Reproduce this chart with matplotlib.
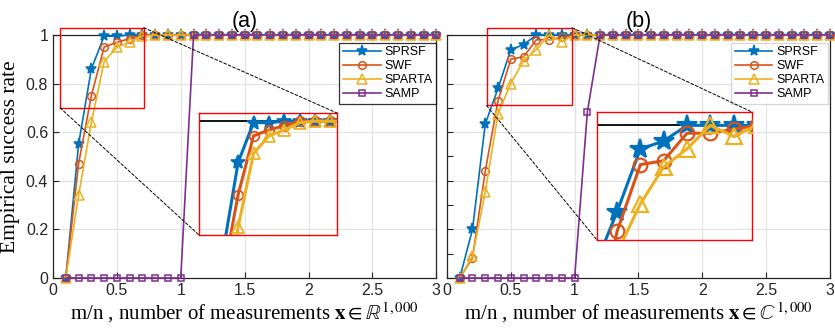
import numpy as np
import matplotlib.pyplot as plt
from matplotlib.patches import Rectangle, ConnectionPatch

plt.rcParams['font.family'] = ['Liberation Sans', 'DejaVu Sans']
plt.rcParams['mathtext.fontset'] = 'stix'

# m/n ratio, 0.1 .. 3.0
x = np.round(np.arange(1, 31) * 0.1, 1)

tail = [1.0] * 22
# panel (a): real signals
a_sprsf = [0, 0.55, 0.86, 0.995, 0.995, 1.0, 1.0, 1.0] + tail
a_swf = [0, 0.47, 0.75, 0.95, 0.97, 0.985, 1.0, 1.0] + tail
a_sparta = [0, 0.34, 0.64, 0.89, 0.95, 0.97, 0.995, 1.0] + tail
a_samp = [0] * 10 + [1.0] * 20

# panel (b): complex signals
b_sprsf = [0, 0.20, 0.634, 0.78, 0.94, 0.96, 1.0, 1.0] + tail
b_swf = [0, 0.083, 0.44, 0.73, 0.90, 0.91, 0.98, 0.98, 0.99, 1.0] + [1.0] * 20
b_sparta = [0, 0.09, 0.354, 0.676, 0.80, 0.894, 0.94, 1.0, 0.972, 1.0] + [1.0] * 20
b_samp = [0] * 10 + [0.683] + [1.0] * 19

names = ['SPRSF', 'SWF', 'SPARTA', 'SAMP']
colors = ['#0072BD', '#D95319', '#EDB120', '#7E2F8E']
markers = ['*', 'o', '^', 's']
msizes = [8, 5.5, 6.5, 4]

fig = plt.figure(figsize=(8.35, 3.32), dpi=100)
axa = fig.add_axes([0.0635, 0.1627, 0.459, 0.732])
axb = fig.add_axes([0.5353, 0.1627, 0.4585, 0.732])


def draw(ax, series, ms_scale=1.0, lw=1.2, clip=False):
    for i, y in enumerate(series):
        face = colors[i] if markers[i] == '*' else 'none'
        ax.plot(x, y, color=colors[i], marker=markers[i], ms=msizes[i] * ms_scale,
                mfc=face, mec=colors[i], mew=1.1 * ms_scale ** 0.6, lw=lw,
                label=names[i], clip_on=clip, zorder=3 + i * 0.01)


def style(ax, labels=True):
    ax.set_xlim(0, 3)
    ax.set_ylim(0, 1)
    ax.set_xticks([0, 0.5, 1, 1.5, 2, 2.5, 3])
    ax.set_xticklabels(['0', '0.5', '1', '1.5', '2', '2.5', '3'])
    ax.set_yticks([0, 0.2, 0.4, 0.6, 0.8, 1])
    if labels:
        ax.set_yticklabels(['0', '0.2', '0.4', '0.6', '0.8', '1'])
    else:
        ax.set_yticklabels([])
        ax.set_yticks(np.arange(0, 1.01, 0.1), minor=True)
    ax.grid(True, color='#e3e3e3', lw=0.9)
    ax.set_axisbelow(True)
    ax.tick_params(direction='in', labelsize=11.5, length=4, width=0.8,
                   colors='#262626', which='both')
    for s in ax.spines.values():
        s.set_color('#262626')
        s.set_linewidth(0.9)
    ax.axhline(1.0, color='black', lw=1.3, zorder=2.5)


sets = [(axa, [a_sprsf, a_swf, a_sparta, a_samp], '(a)', r'\mathbb{R}'),
        (axb, [b_sprsf, b_swf, b_sparta, b_samp], '(b)', r'\mathbb{C}')]

for k, (ax, series, title, field) in enumerate(sets):
    draw(ax, series)
    style(ax, labels=(k == 0))
    ax.set_title(title, fontsize=15.5, pad=6)
    ax.set_xlabel('m/n , number of measurements $\\mathbf{x}\\in' + field + '^{1,000}$',
                  fontsize=15, family='Liberation Serif', labelpad=2)
    leg = ax.legend(loc='upper right', bbox_to_anchor=(1.0 if k == 0 else 0.995, 0.968),
                    fontsize=9, frameon=True, fancybox=False, borderpad=0.3,
                    labelspacing=0.15, handlelength=3.0, handletextpad=0.3,
                    borderaxespad=0)
    leg.get_frame().set_edgecolor('black' if k == 0 else '#cccccc')
    leg.get_frame().set_linewidth(0.9)
    leg.set_zorder(10)

axa.set_ylabel('Empirical success rate', fontsize=15.5, family='Liberation Serif', labelpad=4)

# zoom insets
insets = [(axa, [0.2383, 0.2922, 0.1653, 0.3675], (0.045, 0.943), (0.612, 1.028),
           (0.055, 0.71), (0.70, 1.03), 1.25),
          (axb, [0.715, 0.2771, 0.1856, 0.3855], (0.314, 0.979), (0.708, 1.034),
           (0.31, 0.98), (0.71, 1.03), 1.8)]

for k, (ax, pos, xl, yl, rx, ry, sc) in enumerate(insets):
    ins = fig.add_axes(pos)
    ins.patch.set_alpha(0)
    draw(ins, sets[k][1][:3], ms_scale=sc, lw=2.2, clip=True)
    ins.axhline(1.0, color='black', lw=1.3, zorder=2.5)
    ins.set_xlim(*xl)
    ins.set_ylim(*yl)
    ins.set_xticks([])
    ins.set_yticks([])
    for s in ins.spines.values():
        s.set_color('red')
        s.set_linewidth(1.0)
    rect = Rectangle((rx[0], ry[0]), rx[1] - rx[0], ry[1] - ry[0], fill=False,
                     ec='red', lw=1.0, clip_on=False, zorder=6)
    ax.add_patch(rect)
    for (px, py), (qx, qy) in [((rx[1], ry[1]), (1, 1)), ((rx[0], ry[0]), (0, 0))]:
        con = ConnectionPatch(xyA=(px, py), coordsA=ax.transData,
                              xyB=(qx, qy), coordsB=ins.transAxes,
                              ls=(0, (3, 2)), lw=0.7, color='black')
        fig.add_artist(con)

fig.savefig('out.png', dpi=100)
